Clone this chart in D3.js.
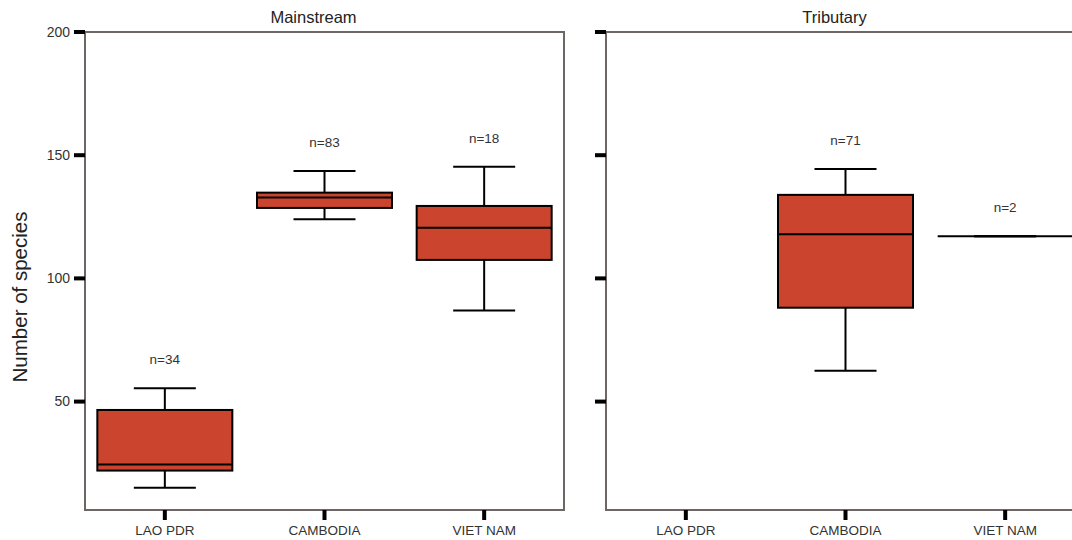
<!DOCTYPE html>
<html>
<head>
<meta charset="utf-8">
<script src="https://cdn.jsdelivr.net/npm/d3@7"></script>
<style>
  body { margin: 0; background: #fff; }
  text { font-family: "Liberation Sans", Arial, Helvetica, sans-serif; }
</style>
</head>
<body>
<svg id="chart" width="1072" height="540"></svg>
<script>

// ---- data ----
var categories = ['LAO PDR', 'CAMBODIA', 'VIET NAM'];
var panels = ['Mainstream', 'Tributary'];
var yTicks = [50, 100, 150, 200];

var mainMin = [15, 124, 87];
var mainQ1  = [22, 128.6, 107.5];
var mainMed = [24.5, 132.8, 120.6];
var mainQ3  = [46.6, 134.8, 129.4];
var mainMax = [55.4, 143.6, 145.3];
var mainN   = [34, 83, 18];

var tribMin = [null, 62.5, 117.1];
var tribQ1  = [null, 88.1, 117.1];
var tribMed = [null, 117.9, 117.1];
var tribQ3  = [null, 133.9, 117.1];
var tribMax = [null, 144.4, 117.1];
var tribN   = [null, 71, 2];

//--------------------------------------------------

function buildRows(mins, q1s, meds, q3s, maxs, ns){
	return categories.map(function(c, i){
		return { cat: c, min: mins[i], q1: q1s[i], med: meds[i], q3: q3s[i], max: maxs[i], n: ns[i] };
	}).filter(function(d){ return d.n != null });
}

var panelRows = [
	buildRows(mainMin, mainQ1, mainMed, mainQ3, mainMax, mainN),
	buildRows(tribMin, tribQ1, tribMed, tribQ3, tribMax, tribN)
];

var plotTop = 32;
var plotBottom = 510;
var panelWidth = 479;
var panelLefts = [85, 606];
var boxWidth = 135;
var capWidth = 62;
var fill = '#CB442E';
var frameCol = '#6e6565';

var svg = d3.select('#chart');

var y = d3.scaleLinear()
		.domain([6, 200])
		.range([plotBottom, plotTop]);

var x = d3.scalePoint()
		.domain(categories)
		.range([0, panelWidth])
		.padding(0.5);

// y title
svg.append('text')
	.attr('transform', 'translate(27,297) rotate(-90)')
	.style('text-anchor', 'middle')
	.style('font-size', '20.5px')
	.attr('fill', '#222')
	.text('Number of species');

panels.forEach(function(name, p){

	var g = svg.append('g')
			.attr('transform', 'translate(' + panelLefts[p] + ',0)');

	// facet title
	g.append('text')
		.attr('x', panelWidth / 2 - 11)
		.attr('y', 23)
		.style('text-anchor', 'middle')
		.style('font-size', '16.5px')
		.attr('fill', '#222')
		.text(name);

	// frame
	g.append('rect')
		.attr('x', 0)
		.attr('y', plotTop)
		.attr('width', panelWidth)
		.attr('height', plotBottom - plotTop)
		.attr('fill', 'none')
		.attr('stroke', frameCol)
		.attr('stroke-width', 2);

	// y ticks
	g.selectAll('.ytick')
		.data(yTicks)
		.enter()
		.append('line')
		.attr('x1', -11).attr('x2', 0)
		.attr('y1', function(d){ return y(d) })
		.attr('y2', function(d){ return y(d) })
		.attr('stroke', '#000')
		.attr('stroke-width', 4);

	if (p === 0) {
		g.selectAll('.ylab')
			.data(yTicks)
			.enter()
			.append('text')
			.attr('x', -15)
			.attr('y', function(d){ return y(d) })
			.attr('dy', '0.35em')
			.style('text-anchor', 'end')
			.style('font-size', '14px')
			.attr('fill', '#333')
			.text(function(d){ return d });
	}

	// x ticks + labels
	g.selectAll('.xtick')
		.data(categories)
		.enter()
		.append('line')
		.attr('x1', function(d){ return x(d) })
		.attr('x2', function(d){ return x(d) })
		.attr('y1', plotBottom).attr('y2', plotBottom + 10)
		.attr('stroke', '#000')
		.attr('stroke-width', 4);

	g.selectAll('.xlab')
		.data(categories)
		.enter()
		.append('text')
		.attr('x', function(d){ return x(d) })
		.attr('y', 535)
		.style('text-anchor', 'middle')
		.style('font-size', '13.5px')
		.attr('fill', '#333')
		.text(function(d){ return d });

	var rows = panelRows[p];

	var box = g.selectAll('.box')
			.data(rows)
			.enter()
			.append('g')
			.attr('class', 'box');

	// whisker stems
	box.append('line')
		.attr('x1', function(d){ return x(d.cat) })
		.attr('x2', function(d){ return x(d.cat) })
		.attr('y1', function(d){ return y(d.max) })
		.attr('y2', function(d){ return y(d.q3) })
		.attr('stroke', '#000').attr('stroke-width', 2);
	box.append('line')
		.attr('x1', function(d){ return x(d.cat) })
		.attr('x2', function(d){ return x(d.cat) })
		.attr('y1', function(d){ return y(d.q1) })
		.attr('y2', function(d){ return y(d.min) })
		.attr('stroke', '#000').attr('stroke-width', 2);

	// caps
	box.append('line')
		.attr('x1', function(d){ return x(d.cat) - capWidth / 2 })
		.attr('x2', function(d){ return x(d.cat) + capWidth / 2 })
		.attr('y1', function(d){ return y(d.max) })
		.attr('y2', function(d){ return y(d.max) })
		.attr('stroke', '#000').attr('stroke-width', 2);
	box.append('line')
		.attr('x1', function(d){ return x(d.cat) - capWidth / 2 })
		.attr('x2', function(d){ return x(d.cat) + capWidth / 2 })
		.attr('y1', function(d){ return y(d.min) })
		.attr('y2', function(d){ return y(d.min) })
		.attr('stroke', '#000').attr('stroke-width', 2);

	// box
	box.append('rect')
		.attr('x', function(d){ return x(d.cat) - boxWidth / 2 })
		.attr('y', function(d){ return y(d.q3) })
		.attr('width', boxWidth)
		.attr('height', function(d){ return y(d.q1) - y(d.q3) })
		.attr('fill', fill)
		.attr('stroke', '#000')
		.attr('stroke-width', 2);

	// median
	box.append('line')
		.attr('x1', function(d){ return x(d.cat) - boxWidth / 2 })
		.attr('x2', function(d){ return x(d.cat) + boxWidth / 2 })
		.attr('y1', function(d){ return y(d.med) })
		.attr('y2', function(d){ return y(d.med) })
		.attr('stroke', '#000').attr('stroke-width', 2);

	// n labels
	box.append('text')
		.attr('x', function(d){ return x(d.cat) })
		.attr('y', function(d){ return y(d.max) - 24 })
		.style('text-anchor', 'middle')
		.style('font-size', '13.5px')
		.attr('fill', '#333')
		.text(function(d){ return 'n=' + d.n });
});

</script>
</body>
</html>
